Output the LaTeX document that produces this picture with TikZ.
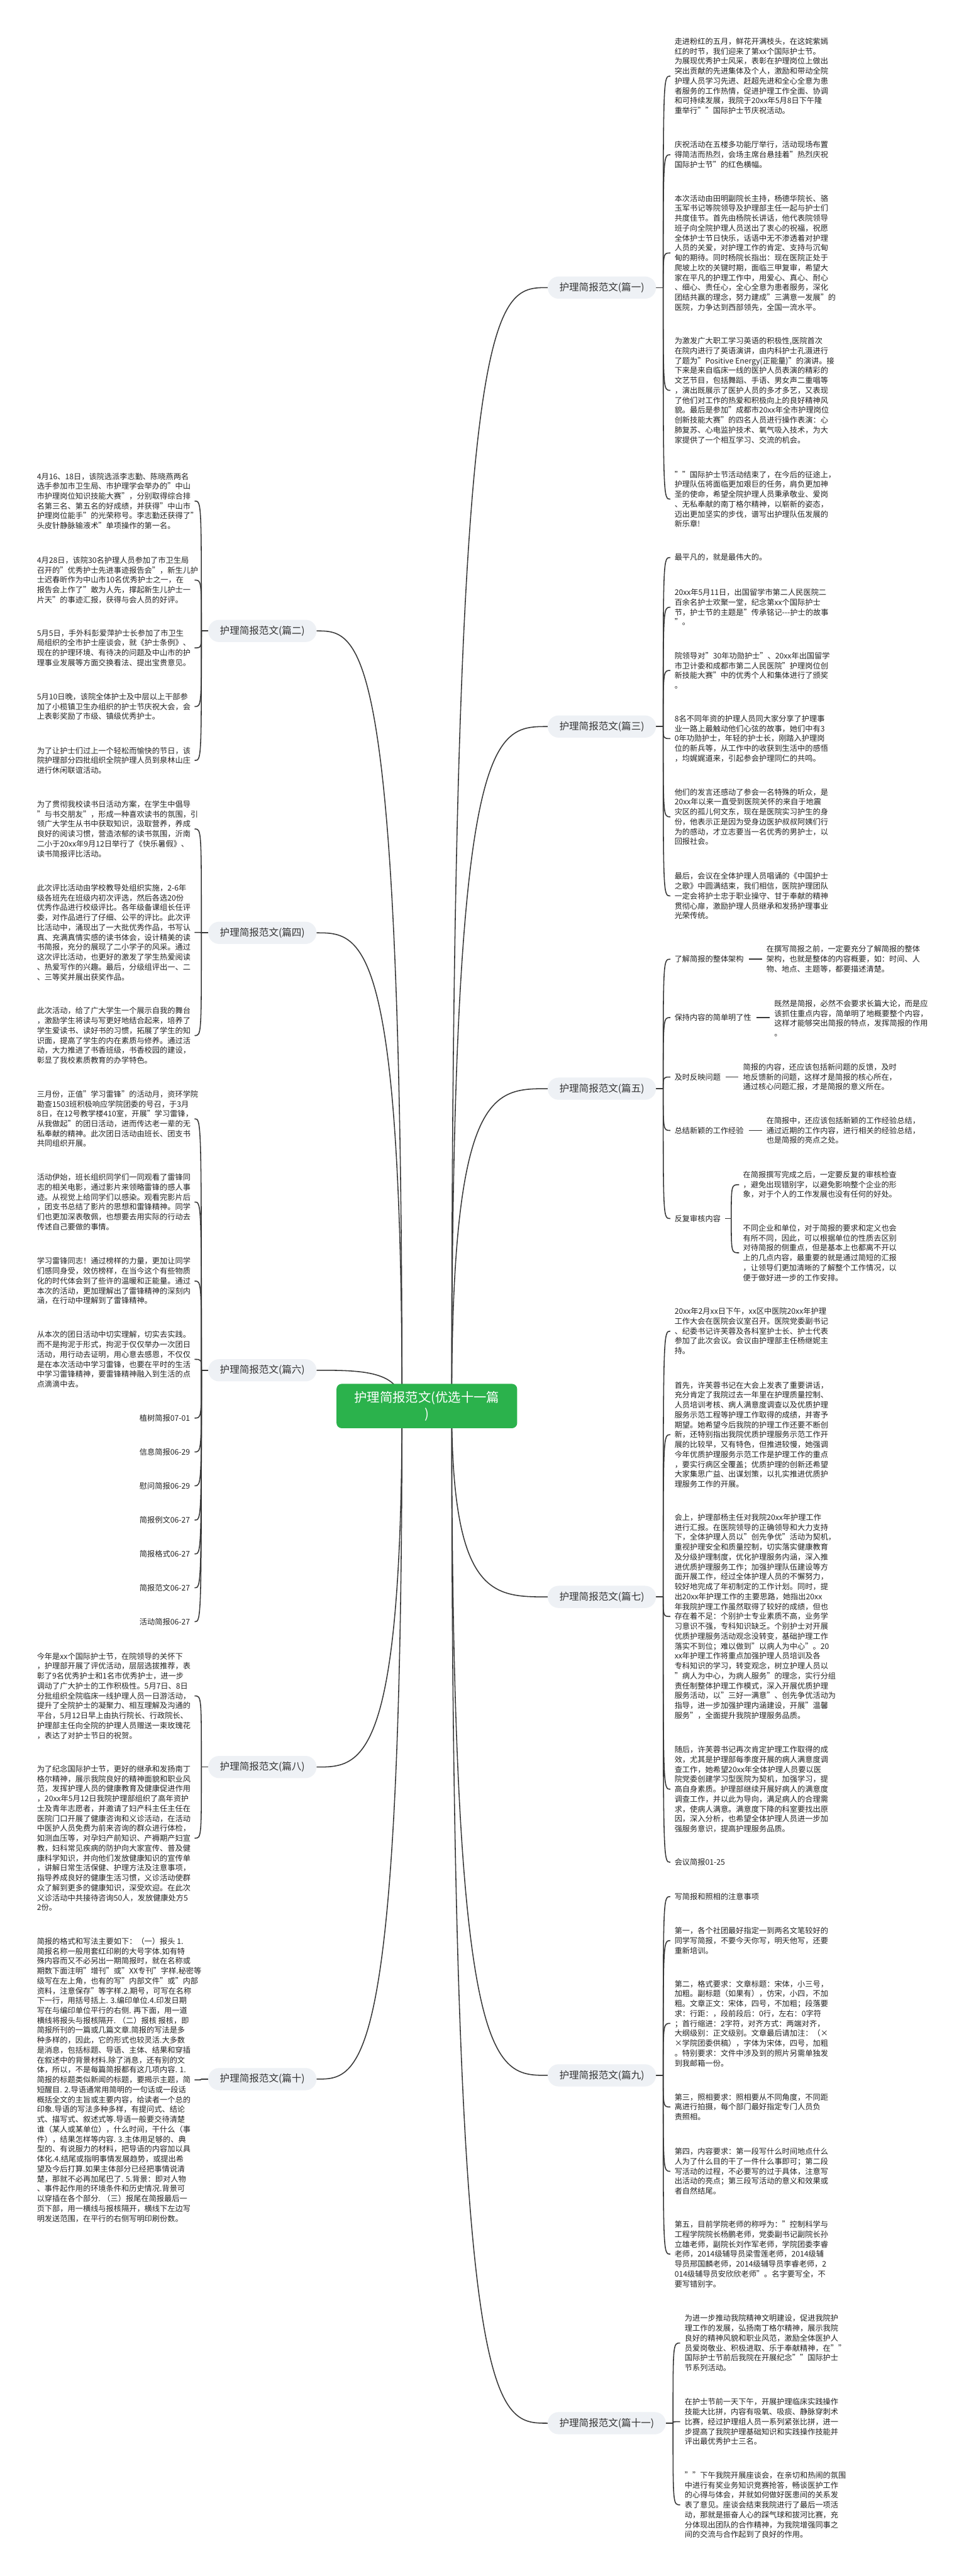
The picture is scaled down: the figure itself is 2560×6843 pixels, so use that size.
\documentclass[tikz,border=0pt]{standalone}
\usepackage{fontspec}
\setmainfont{Noto Sans CJK SC}
\usetikzlibrary{calc}
\definecolor{txtc}{HTML}{222222}
\definecolor{linec}{HTML}{383838}
\definecolor{labfill}{HTML}{EEF1F5}
\definecolor{labtxt}{HTML}{333333}
\definecolor{rootfill}{HTML}{2BB24C}
\pgfdeclarelayer{bg}\pgfdeclarelayer{edges}\pgfsetlayers{bg,edges,main}
\tikzset{
 txt/.style={font=\fontsize{20.4}{26.3}\selectfont, align=left, inner sep=0pt, text=txtc, anchor=west},
 ttl/.style={font=\fontsize{20.4}{26.3}\selectfont, inner sep=0pt, text=txtc, anchor=east},
 lab/.style={font=\fontsize{26}{30}\selectfont, fill=labfill, rounded corners=29pt, minimum height=59pt, inner xsep=31pt, inner ysep=0pt, text=labtxt},
 rootst/.style={font=\fontsize{34}{44}\selectfont, fill=rootfill, text=white, rounded corners=14pt, minimum width=480pt, minimum height=118pt, align=center, inner sep=0pt},
 conn/.style={draw=linec, line width=2.6pt},
}
\newcommand\myrootR[1]{\draw[conn] (rR) .. controls (rR |- #1.west) and ($(rR |- #1.west)+(110,0)$) .. (#1.west);}
\newcommand\myrootL[1]{\draw[conn] (rL) .. controls (rL |- #1.east) and ($(rL |- #1.east)+(-110,0)$) .. (#1.east);}
\newcommand\mykidsR[2]{\coordinate (#1j) at ($(#1.east)+(19,0)$);
 \draw[conn] (#1.east) -- (#1j);
 \foreach \k in {#2} {\draw[conn] (#1j) .. controls (#1j |- \k.west) .. ($(#1j |- \k.west)+(19,0)$);}}
\newcommand\mykidsL[2]{\coordinate (#1j) at ($(#1.west)+(-18,0)$);
 \draw[conn] (#1.west) -- (#1j);
 \foreach \k in {#2} {\draw[conn] (#1j) .. controls (#1j |- \k.center) .. ($(#1j |- \k.center)+(-18,0)$);}}
\begin{document}
\begin{tikzpicture}[x=1pt,y=-1pt]
\begin{pgfonlayer}{bg}\fill[white] (0,0) rectangle (2560,6843);\end{pgfonlayer}
\useasboundingbox (0,0) rectangle (2560,6843);
\node[rootst] (root) at (1134,3735) {护理简报范文(优选十一篇\\)};
\coordinate (rR) at ($(root.center)+(66,0)$);
\coordinate (rL) at ($(root.center)+(-66,0)$);
% ---------- right labels
\node[lab,anchor=west] (b1) at (1455,764) {护理简报范文(篇一)};
\node[lab,anchor=west] (b3) at (1455,1930) {护理简报范文(篇三)};
\node[lab,anchor=west] (b5) at (1455,2892) {护理简报范文(篇五)};
\node[lab,anchor=west] (b7) at (1455,4242) {护理简报范文(篇七)};
\node[lab,anchor=west] (b9) at (1455,5513) {护理简报范文(篇九)};
\node[lab,anchor=west] (b11) at (1455,6437) {护理简报范文(篇十一)};
% ---------- left labels
\node[lab,anchor=east] (b2) at (841,1676) {护理简报范文(篇二)};
\node[lab,anchor=east] (b4) at (841,2478) {护理简报范文(篇四)};
\node[lab,anchor=east] (b6) at (841,3640) {护理简报范文(篇六)};
\node[lab,anchor=east] (b8) at (841,4694) {护理简报范文(篇八)};
\node[lab,anchor=east] (b10) at (841,5523) {护理简报范文(篇十)};
% ---------- 篇一
\node[txt] (p1a) at (1792,202) {走进粉红的五月，鲜花开满枝头，在这姹紫嫣\\红的时节，我们迎来了第xx个国际护士节。\\为展现优秀护士风采，表彰在护理岗位上做出\\突出贡献的先进集体及个人，激励和带动全院\\护理人员学习先进、赶超先进和全心全意为患\\者服务的工作热情，促进护理工作全面、协调\\和可持续发展，我院于20xx年5月8日下午隆\\重举行""国际护士节庆祝活动。};
\node[txt] (p1b) at (1792,411) {庆祝活动在五楼多功能厅举行，活动现场布置\\得简洁而热烈，会场主席台悬挂着"热烈庆祝\\国际护士节"的红色横幅。};
\node[txt] (p1c) at (1792,672) {本次活动由田明副院长主持，杨德华院长、骆\\玉军书记等院领导及护理部主任一起与护士们\\共度佳节。首先由杨院长讲话，他代表院领导\\班子向全院护理人员送出了衷心的祝福，祝愿\\全体护士节日快乐，话语中无不渗透着对护理\\人员的关爱，对护理工作的肯定、支持与沉甸\\甸的期待。同时杨院长指出：现在医院正处于\\爬坡上坎的关键时期，面临三甲复审，希望大\\家在平凡的护理工作中，用爱心、真心、耐心\\、细心、责任心，全心全意为患者服务，深化\\团结共赢的理念，努力建成"三满意一发展"的\\医院，力争达到西部领先，全国一流水平。};
\node[txt] (p1d) at (1792,1037) {为激发广大职工学习英语的积极性,医院首次\\在院内进行了英语演讲，由内科护士孔滠进行\\了题为"Positive Energy(正能量)"的演讲。接\\下来是来自临床一线的医护人员表演的精彩的\\文艺节目，包括舞蹈、手语、男女声二重唱等\\，演出既展示了医护人员的多才多艺，又表现\\了他们对工作的热爱和积极向上的良好精神风\\貌。最后是参加"成都市20xx年全市护理岗位\\创新技能大赛"的四名人员进行操作表演：心\\肺复苏、心电监护技术、氧气吸入技术，为大\\家提供了一个相互学习、交流的机会。};
\node[txt] (p1e) at (1792,1326) {""国际护士节活动结束了，在今后的征途上，\\护理队伍将面临更加艰巨的任务，肩负更加神\\圣的使命，希望全院护理人员秉承敬业、爱岗\\、无私奉献的南丁格尔精神，以崭新的姿态，\\迈出更加坚实的步伐，谱写出护理队伍发展的\\新乐章!};
% ---------- 篇三
\node[txt] (p3a) at (1792,1481) {最平凡的，就是最伟大的。};
\node[txt] (p3b) at (1792,1613) {20xx年5月11日，出国留学市第二人民医院二\\百余名护士欢聚一堂，纪念第xx个国际护士\\节，护士节的主题是"传承铭记-{}-{}-护士的故事\\"。};
\node[txt] (p3c) at (1792,1781) {院领导对"30年功勋护士"、20xx年出国留学\\市卫计委和成都市第二人民医院"护理岗位创\\新技能大赛"中的优秀个人和集体进行了颁奖\\。};
\node[txt] (p3d) at (1792,1962) {8名不同年资的护理人员同大家分享了护理事\\业一路上最触动他们心弦的故事，她们中有3\\0年功勋护士，年轻的护士长，刚踏入护理岗\\位的新兵等，从工作中的收获到生活中的感悟\\，均娓娓道来，引起参会护理同仁的共鸣。};
\node[txt] (p3e) at (1792,2170) {他们的发言还感动了参会一名特殊的听众，是\\20xx年以来一直受到医院关怀的来自于地震\\灾区的孤儿何文东，现在是医院实习护生的身\\份，他表示正是因为受身边医护叔叔阿姨们行\\为的感动，才立志要当一名优秀的男护士，以\\回报社会。};
\node[txt] (p3f) at (1792,2380) {最后，会议在全体护理人员唱诵的《中国护士\\之歌》中圆满结束，我们相信，医院护理团队\\一定会将护士忠于职业操守、甘于奉献的精神\\贯彻心扉，激励护理人员继承和发扬护理事业\\光荣传统。};
% ---------- 篇五
\node[txt] (s1) at (1792,2548) {了解简报的整体架构};
\node[txt] (s1t) at (2036,2548) {在撰写简报之前，一定要充分了解简报的整体\\架构，也就是整体的内容概要，如：时间、人\\物、地点、主题等，都要描述清楚。};
\node[txt] (s2) at (1792,2703) {保持内容的简单明了性};
\node[txt] (s2t) at (2057,2705) {既然是简报，必然不会要求长篇大论，而是应\\该抓住重点内容，简单明了地概要整个内容，\\这样才能够突出简报的特点，发挥简报的作用\\。};
\node[txt] (s3) at (1792,2861) {及时反映问题};
\node[txt] (s3t) at (1974,2861) {简报的内容，还应该包括新问题的反馈，及时\\地反馈新的问题，这样才是简报的核心所在，\\通过核心问题汇报，才是简报的意义所在。};
\node[txt] (s4) at (1792,3003) {总结新颖的工作经验};
\node[txt] (s4t) at (2036,3003) {在简报中，还应该包括新颖的工作经验总结，\\通过近期的工作内容，进行相关的经验总结，\\也是简报的亮点之处。};
\node[txt] (s5) at (1792,3237) {反复审核内容};
\node[txt] (s5a) at (1974,3147) {在简报撰写完成之后，一定要反复的审核检查\\，避免出现错别字，以避免影响整个企业的形\\象，对于个人的工作发展也没有任何的好处。};
\node[txt] (s5b) at (1974,3328) {不同企业和单位，对于简报的要求和定义也会\\有所不同，因此，可以根据单位的性质去区别\\对待简报的侧重点，但是基本上也都离不开以\\上的几点内容，最重要的就是通过简短的汇报\\，让领导们更加清晰的了解整个工作情况，以\\便于做好进一步的工作安排。};
% ---------- 篇七
\node[txt] (p7a) at (1792,3536) {20xx年2月xx日下午，xx区中医院20xx年护理\\工作大会在医院会议室召开。医院党委副书记\\、纪委书记许芙蓉及各科室护士长、护士代表\\参加了此次会议。会议由护理部主任杨继妮主\\持。};
\node[txt] (p7b) at (1792,3811) {首先，许芙蓉书记在大会上发表了重要讲话，\\充分肯定了我院过去一年里在护理质量控制、\\人员培训考核、病人满意度调查以及优质护理\\服务示范工程等护理工作取得的成绩，并寄予\\期望。她希望今后我院的护理工作还要不断创\\新，还特别指出我院优质护理服务示范工作开\\展的比较早，又有特色，但推进较慢，她强调\\今年优质护理服务示范工作是护理工作的重点\\，要实行病区全覆盖；优质护理的创新还希望\\大家集思广益、出谋划策，以扎实推进优质护\\理服务工作的开展。};
\node[txt] (p7c) at (1792,4294) {会上，护理部杨主任对我院20xx年护理工作\\进行汇报。在医院领导的正确领导和大力支持\\下，全体护理人员以"创先争优"活动为契机，\\重视护理安全和质量控制，切实落实健康教育\\及分级护理制度，优化护理服务内涵，深入推\\进优质护理服务工作；加强护理队伍建设等方\\面开展工作，经过全体护理人员的不懈努力，\\较好地完成了年初制定的工作计划。同时，提\\出20xx年护理工作的主要思路，她指出20xx\\年我院护理工作虽然取得了较好的成绩，但也\\存在着不足：个别护士专业素质不高，业务学\\习意识不强，专科知识缺乏。个别护士对开展\\优质护理服务活动观念没转变，基础护理工作\\落实不到位；难以做到"以病人为中心"。20\\xx年护理工作将重点加强护理人员培训及各\\专科知识的学习，转变观念，树立护理人员以\\"病人为中心，为病人服务"的理念，实行分组\\责任制整体护理工作模式，深入开展优质护理\\服务活动，以"三好一满意"、创先争优活动为\\指导，进一步加强护理内涵建设，开展"温馨\\服务"，全面提升我院护理服务品质。};
\node[txt] (p7d) at (1792,4753) {随后，许芙蓉书记再次肯定护理工作取得的成\\效，尤其是护理部每季度开展的病人满意度调\\查工作，她希望20xx年全体护理人员要以医\\院党委创建学习型医院为契机，加强学习，提\\高自身素质。护理部继续开展好病人的满意度\\调查工作，并以此为导向，满足病人的合理需\\求，使病人满意。满意度下降的科室要找出原\\因，深入分析，也希望全体护理人员进一步加\\强服务意识，提高护理服务品质。};
\node[txt] (p7e) at (1792,4947) {会议简报01-25};
% ---------- 篇九
\node[txt] (p9a) at (1792,5038) {写简报和照相的注意事项};
\node[txt] (p9b) at (1792,5155) {第一，各个社团最好指定一到两名文笔较好的\\同学写简报，不要今天你写，明天他写，还要\\重新培训。};
\node[txt] (p9c) at (1792,5375) {第二，格式要求：文章标题：宋体，小三号，\\加粗。副标题（如果有），仿宋，小四，不加\\粗。文章正文：宋体，四号，不加粗；段落要\\求：行距：，段前段后：0行，左右：0字符\\；首行缩进：2字符，对齐方式：两端对齐，\\大纲级别：正文级别。文章最后请加注：（×\\×学院团委供稿），字体为宋体，四号，加粗\\。特别要求：文件中涉及到的照片另需单独发\\到我邮箱一份。};
\node[txt] (p9d) at (1792,5597) {第三，照相要求：照相要从不同角度，不同距\\离进行拍摄，每个部门最好指定专门人员负\\责照相。};
\node[txt] (p9e) at (1792,5768) {第四，内容要求：第一段写什么时间地点什么\\人为了什么目的干了一件什么事即可；第二段\\写活动的过程，不必要写的过于具体，注意写\\出活动的亮点；第三段写活动的意义和效果或\\者自然结尾。};
\node[txt] (p9f) at (1792,5988) {第五，目前学院老师的称呼为："控制科学与\\工程学院院长杨鹏老师，党委副书记副院长孙\\立雄老师，副院长刘作军老师，学院团委李睿\\老师，2014级辅导员梁雪莲老师，2014级辅\\导员邢国麟老师，2014级辅导员李睿老师，2\\014级辅导员安欣欣老师"。名字要写全，不\\要写错别字。};
% ---------- 篇十一
\node[txt] (q1) at (1819,6224) {为进一步推动我院精神文明建设，促进我院护\\理工作的发展，弘扬南丁格尔精神，展示我院\\良好的精神风貌和职业风范，激励全体医护人\\员爱岗敬业、积极进取、乐于奉献精神，在""\\ 国际护士节前后我院在开展纪念""国际护士\\节系列活动。};
\node[txt] (q2) at (1819,6433) {在护士节前一天下午，开展护理临床实践操作\\技能大比拼，内容有吸氧、吸痰、静脉穿刺术\\比赛，经过护理组人员一系列紧张比拼，进一\\步提高了我院护理基础知识和实践操作技能并\\评出最优秀护士三名。};
\node[txt] (q3) at (1819,6654) {""下午我院开展座谈会，在亲切和热闹的氛围\\中进行有奖业务知识竞赛抢答，畅谈医护工作\\的心得与体会，并就如何做好医患间的关系发\\表了意见。座谈会结束我院进行了最后一项活\\动，那就是振奋人心的踩气球和拔河比赛，充\\分体现出团队的合作精神，为我院增强同事之\\间的交流与合作起到了良好的作用。};
% ---------- 篇二
\node[txt] (l2a) at (98,1331) {4月16、18日，该院选派李志勤、陈晓燕两名\\选手参加市卫生局、市护理学会举办的"中山\\市护理岗位知识技能大赛"，分别取得综合排\\名第三名、第五名的好成绩，并获得"中山市\\护理岗位能手"的光荣称号。李志勤还获得了"\\头皮针静脉输液术"单项操作的第一名。};
\node[txt] (l2b) at (98,1541) {4月28日，该院30名护理人员参加了市卫生局\\召开的"优秀护士先进事迹报告会"，新生儿护\\士迟春昕作为中山市10名优秀护士之一，在\\报告会上作了"敢为人先，撑起新生儿护士一\\片天"的事迹汇报，获得与会人员的好评。};
\node[txt] (l2c) at (98,1721) {5月5日，手外科彭爱萍护士长参加了市卫生\\局组织的全市护士座谈会，就《护士条例》、\\现在的护理环境、有待决的问题及中山市的护\\理事业发展等方面交换看法、提出宝贵意见。};
\node[txt] (l2d) at (98,1877) {5月10日晚，该院全体护士及中层以上干部参\\加了小榄镇卫生办组织的护士节庆祝大会，会\\上表彰奖励了市级、镇级优秀护士。};
\node[txt] (l2e) at (98,2020) {为了让护士们过上一个轻松而愉快的节日，该\\院护理部分四批组织全院护理人员到泉林山庄\\进行休闲联谊活动。};
% ---------- 篇四
\node[txt] (l4a) at (98,2202) {为了贯彻我校读书日活动方案，在学生中倡导\\"与书交朋友"，形成一种喜欢读书的氛围，引\\领广大学生从书中获取知识，汲取营养，养成\\良好的阅读习惯，营造浓郁的读书氛围，沂南\\二小于20xx年9月12日举行了《快乐暑假》、\\读书简报评比活动。};
\node[txt] (l4b) at (98,2477) {此次评比活动由学校教导处组织实施，2-6年\\级各班先在班级内初次评选，然后各选20份\\优秀作品进行校级评比。各年级备课组长任评\\委，对作品进行了仔细、公平的评比。此次评\\比活动中，涌现出了一大批优秀作品，书写认\\真、充满真情实感的读书体会，设计精美的读\\书简报，充分的展现了二小学子的风采。通过\\这次评比活动，也更好的激发了学生热爱阅读\\、热爱写作的兴趣。最后，分级组评出一、二\\、三等奖并展出获奖作品。};
\node[txt] (l4c) at (98,2751) {此次活动，给了广大学生一个展示自我的舞台\\，激励学生将读与写更好地结合起来，培养了\\学生爱读书、读好书的习惯，拓展了学生的知\\识面，提高了学生的内在素质与修养。通过活\\动，大力推进了书香班级，书香校园的建设，\\彰显了我校素质教育的办学特色。};
% ---------- 篇六
\node[txt] (l6a) at (98,2972) {三月份，正值"学习雷锋"的活动月，资环学院\\勘查1503班积极响应学院团委的号召，于3月\\8日，在12号教学楼410室，开展"学习雷锋，\\从我做起"的团日活动，进而传达老一辈的无\\私奉献的精神。此次团日活动由班长、团支书\\共同组织开展。};
\node[txt] (l6b) at (98,3193) {活动伊始，班长组织同学们一同观看了雷锋同\\志的相关电影，通过影片来领略雷锋的感人事\\迹。从视觉上给同学们以感染。观看完影片后\\，团支书总结了影片的思想和雷锋精神。同学\\们也更加深表敬佩，也想要去用实际的行动去\\传述自己要做的事情。};
\node[txt] (l6c) at (98,3403) {学习雷锋同志！通过榜样的力量，更加让同学\\们感同身受，效仿榜样，在当今这个有些物质\\化的时代体会到了些许的温暖和正能量。通过\\本次的活动，更加理解出了雷锋精神的深刻内\\涵，在行动中理解到了雷锋精神。};
\node[txt] (l6d) at (98,3611) {从本次的团日活动中切实理解，切实去实践。\\而不是拘泥于形式，拘泥于仅仅举办一次团日\\活动，用行动去证明，用心意去感恩，不仅仅\\是在本次活动中学习雷锋，也要在平时的生活\\中学习雷锋精神，要雷锋精神融入到生活的点\\点滴滴中去。};
\node[ttl] (t1) at (505,3767) {植树简报07-01};
\node[ttl] (t2) at (505,3857) {信息简报06-29};
\node[ttl] (t3) at (505,3947) {慰问简报06-29};
\node[ttl] (t4) at (505,4038) {简报例文06-27};
\node[ttl] (t5) at (505,4128) {简报格式06-27};
\node[ttl] (t6) at (505,4218) {简报范文06-27};
\node[ttl] (t7) at (505,4308) {活动简报06-27};
% ---------- 篇八
\node[txt] (l8a) at (98,4505) {今年是xx个国际护士节，在院领导的关怀下\\，护理部开展了评优活动，层层选拔推荐，表\\彰了9名优秀护士和1名市优秀护士，进一步\\调动了广大护士的工作积极性。5月7日、8日\\分批组织全院临床一线护理人员一日游活动，\\提升了全院护士的凝聚力、相互理解及沟通的\\平台，5月12日早上由执行院长、行政院长、\\护理部主任向全院的护理人员赠送一束玫瑰花\\，表达了对护士节日的祝贺。};
\node[txt] (l8b) at (98,4883) {为了纪念国际护士节，更好的继承和发扬南丁\\格尔精神，展示我院良好的精神面貌和职业风\\范，发挥护理人员的健康教育及健康促进作用\\，20xx年5月12日我院护理部组织了高年资护\\士及青年志愿者，并邀请了妇产科主任主任在\\医院门口开展了健康咨询和义诊活动，在活动\\中医护人员免费为前来咨询的群众进行体检，\\如测血压等，对孕妇产前知识、产褥期产妇宣\\教，妇科常见疾病的防护向大家宣传、普及健\\康科学知识，并向他们发放健康知识的宣传单\\，讲解日常生活保健、护理方法及注意事项，\\指导养成良好的健康生活习惯，义诊活动使群\\众了解到更多的健康知识，深受欢迎。在此次\\义诊活动中共接待咨询50人，发放健康处方5\\2份。};
% ---------- 篇十
\node[txt] (l10) at (98,5525) { 简报的格式和写法主要如下：（一）报头 1.\\简报名称一般用套红印刷的大号字体.如有特\\殊内容而又不必另出一期简报时，就在名称或\\期数下面注明"增刊"或"XX专刊"字样.秘密等\\级写在左上角，也有的写"内部文件"或"内部\\资料，注意保存"等字样.2.期号，可写在名称\\下一行，用括号括上. 3.编印单位.4.印发日期\\写在与编印单位平行的右侧. 再下面，用一道\\横线将报头与报核隔开. （二）报核 报核，即\\简报所刊的一篇或几篇文章.简报的写法是多\\种多样的，因此，它的形式也较灵活.大多数\\是消息，包括标题、导语、主体、结果和穿插\\在叙述中的背景材料.除了消息，还有别的文\\体，所以，不是每篇简报都有这几项内容. 1.\\简报的标题类似新闻的标题，要揭示主题，简\\短醒目. 2.导语通常用简明的一句话或一段话\\概括全文的主旨或主要内容，给读者一个总的\\印象.导语的写法多种多样，有提问式、结论\\式、描写式、叙述式等.导语一般要交待清楚\\谁（某人或某单位），什么时间，干什么（事\\件），结果怎样等内容. 3.主体用足够的、典\\型的、有说服力的材料，把导语的内容加以具\\体化.4.结尾或指明事情发展趋势，或提出希\\望及今后打算.如果主体部分已经把事情说清\\楚，那就不必再加尾巴了. 5.背景：即对人物\\、事件起作用的环境条件和历史情况.背景可\\以穿插在各个部分. （三）报尾在简报最后一\\页下部，用一横线与报核隔开，横线下左边写\\明发送范围，在平行的右侧写明印刷份数。};
% ---------- connectors
\begin{pgfonlayer}{edges}
\myrootR{b1}\myrootR{b3}\myrootR{b5}\myrootR{b7}\myrootR{b9}\myrootR{b11}
\myrootL{b2}\myrootL{b4}\myrootL{b6}\myrootL{b8}\myrootL{b10}
\mykidsR{b1}{p1a,p1b,p1c,p1d,p1e}
\mykidsR{b3}{p3a,p3b,p3c,p3d,p3e,p3f}
\mykidsR{b5}{s1,s2,s3,s4,s5}
\mykidsR{b7}{p7a,p7b,p7c,p7d,p7e}
\mykidsR{b9}{p9a,p9b,p9c,p9d,p9e,p9f}
\mykidsR{b11}{q1,q2,q3}
\mykidsL{b2}{l2a,l2b,l2c,l2d,l2e}
\mykidsL{b4}{l4a,l4b,l4c}
\mykidsL{b6}{l6a,l6b,l6c,l6d,t1,t2,t3,t4,t5,t6,t7}
\mykidsL{b8}{l8a,l8b}
\mykidsL{b10}{l10}
\draw[conn,shorten <=13pt,shorten >=12pt] (s1.east) -- (s1t.west |- s1.east);
\draw[conn,shorten <=13pt,shorten >=12pt] (s2.east) -- (s2t.west |- s2.east);
\draw[conn,shorten <=13pt,shorten >=12pt] (s3.east) -- (s3t.west |- s3.east);
\draw[conn,shorten <=13pt,shorten >=12pt] (s4.east) -- (s4t.west |- s4.east);
\coordinate (s5j) at ($(s5.east)+(28,0)$);
\draw[conn] ($(s5.east)+(12,0)$) -- (s5j);
\draw[conn] (s5j) .. controls (s5j |- s5a.west) .. ($(s5j |- s5a.west)+(21,0)$);
\draw[conn] (s5j) .. controls (s5j |- s5b.west) .. ($(s5j |- s5b.west)+(21,0)$);
\end{pgfonlayer}
\end{tikzpicture}
\end{document}
